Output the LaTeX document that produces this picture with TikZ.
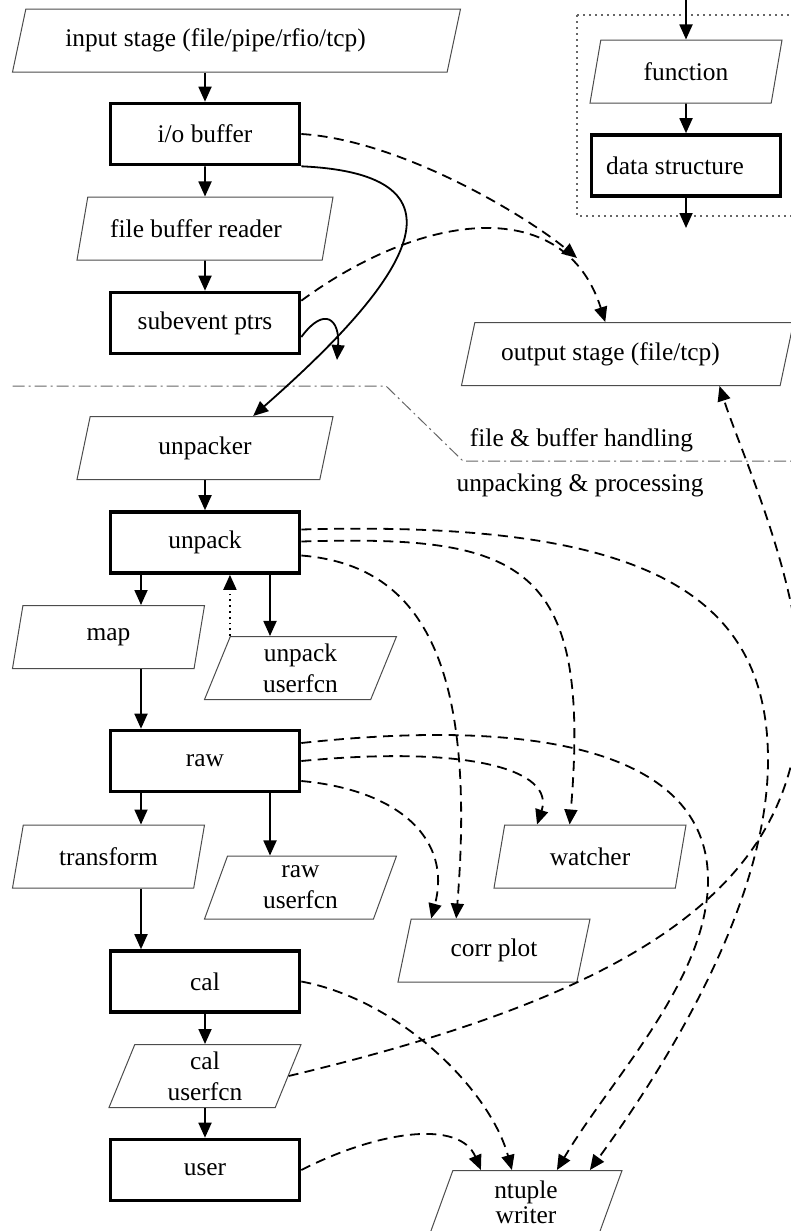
\documentclass[tikz,border=0pt]{standalone}
\usepackage{fontspec}
\setmainfont{Liberation Serif}
\usetikzlibrary{shapes.geometric, arrows.meta, calc}

\begin{document}
\begin{tikzpicture}[
x=0.5pt, y=-0.5pt,
>={Triangle[length=7.5pt,width=6.5pt]},
every node/.style={font=\fontsize{12.7}{15.5}\selectfont, align=center},
fn/.style={trapezium, trapezium left angle=64, trapezium right angle=116,
  trapezium stretches body, draw=black!70, line width=0.5pt,
  minimum width=96pt, minimum height=31.5pt, inner sep=1pt},
buf/.style={draw, line width=1.8pt, minimum width=94.5pt, minimum height=30.5pt},
flow/.style={->, line width=0.9pt},
feed/.style={->, line width=0.9pt, dash pattern=on 5pt off 3.2pt}
]
\useasboundingbox (0,0) rectangle (791,1231);

% Nodes
\node[fn, minimum width=224pt] (input) at (236.5,40.5) {input stage (file/pipe/rfio/tcp)\hspace*{21pt}};
\node[buf] (iobuf) at (205,134) {i/o buffer};
\node[fn, minimum width=128pt] (fbr) at (205,228.5) {file buffer reader\hspace*{9pt}};
\node[buf] (subevt) at (205,323) {subevent ptrs};
\node[fn, minimum width=128pt] (unpacker) at (205,448) {unpacker};
\node[buf] (unpack) at (205,542.5) {unpack};
\node[fn] (map) at (108.5,637) {map};
\node[fn] (unpackufcn) at (300.5,668) {unpack\\userfcn};
\node[buf] (raw) at (205,761) {raw};
\node[fn] (transform) at (108.5,856.5) {transform};
\node[fn] (rawufcn) at (300.5,887.5) {raw\\userfcn};
\node[buf] (cal) at (205,981.5) {cal};
\node[fn] (calufcn) at (205,1076) {cal\\userfcn};
\node[buf] (user) at (205,1170) {user};
\node[fn] (corrplot) at (494,950.5) {corr plot};
\node[fn] (watcher) at (590,856.5) {watcher};
\node[fn] (ntuple) at (526,1202) {ntuple\\[-3pt]writer};
\node[fn, minimum width=166pt] (outstage) at (627.5,354) {output stage (file/tcp)\hspace*{17pt}};

% Legend
\draw[black!60, line width=0.6pt, dash pattern=on 0.8pt off 2.2pt] (577,15) rectangle (800,216);
\node[fn] (legfn) at (686,71.5) {function};
\node[buf] (legbuf) at (686,165.5) {data structure\hspace*{11pt}};
\coordinate (legin) at (686,0);
\coordinate (legout) at (686,228);
\draw[flow] (legin) -- (legfn);
\draw[flow] (legfn) -- (legbuf);
\draw[flow] (legbuf) -- (legout);

% Divider
\draw[black!60, line width=0.5pt, dash pattern=on 6pt off 2pt on 1pt off 2pt]
  (12.6,386) -- (386,386) -- (463,461) -- (791,461);
\node (lblfile) at (581.5,440) {file \& buffer handling};
\node (lblunpack) at (580,485) {unpacking \& processing};

% Arrows
\coordinate (merge) at (337,360);
\coordinate (outmerge) at (577,258);
\coordinate (tomap) at ([xshift=-32pt]unpack.south);
\coordinate (toufcn) at ([xshift=32.5pt]unpack.south);
\coordinate (frommap) at ([xshift=-32pt]raw.north);
\coordinate (totrans) at ([xshift=-32pt]raw.south);
\coordinate (torawufcn) at ([xshift=32.5pt]raw.south);
\coordinate (fromtrans) at ([xshift=-32pt]cal.north);

\draw[flow] (iobuf.north |- input.south) -- (iobuf);
\draw[flow] (iobuf) -- (fbr);
\draw[flow] (fbr) -- (subevt);
\draw[flow] (unpacker) -- (unpack);
\draw[flow] (tomap) -- (tomap |- map.north);
\draw[flow] (toufcn) -- (toufcn |- unpackufcn.north);
\draw[->, dotted, line width=0.9pt] (unpackufcn.top left corner) -- (unpackufcn.top left corner |- unpack.south);
\draw[flow] (frommap |- map.south) -- (frommap);
\draw[flow] (totrans) -- (totrans |- transform.north);
\draw[flow] (torawufcn) -- (torawufcn |- rawufcn.north);
\draw[flow] (fromtrans |- transform.south) -- (fromtrans);
\draw[flow] (cal) -- (calufcn);
\draw[flow] (calufcn) -- (user);

\draw[flow] (iobuf.south east) .. controls (495,175) and (385,300) .. ([xshift=81.7pt]unpacker.top left corner);
\draw[flow] ($(subevt.east)+(0,14)$) .. controls (325,305) and (340,320) .. (merge);

\draw[feed] (iobuf.east) .. controls (400,140) and (525,215) .. (outmerge);
\draw[feed] ($(subevt.north east)+(0,10)$) .. controls (425,210) and (565,195) .. ([xshift=65.4pt]outstage.top left corner);
\draw[feed] (calufcn.right side) .. controls (650,990) and (805,880) .. (800,680)
  .. controls (800,580) and (740,450) .. ([xshift=129.3pt]outstage.bottom left corner);

\draw[feed] ($(unpack.east)+(0,-13)$) .. controls (640,520) and (768,590) .. (768,760)
  .. controls (768,900) and (670,1060) .. ([xshift=68.7pt]ntuple.top left corner);
\draw[feed] ($(unpack.east)+(0,-1)$) .. controls (520,535) and (592,560) .. ([xshift=32.7pt]watcher.top left corner);
\draw[feed] ($(unpack.east)+(0,13)$) .. controls (420,565) and (477,660) .. ([xshift=22.7pt]corrplot.top left corner);

\draw[feed] ($(raw.east)+(0,-18)$) .. controls (560,715) and (708,760) .. (708,880)
  .. controls (708,980) and (610,1080) .. ([xshift=52.2pt]ntuple.top left corner);
\draw[feed] (raw.east) .. controls (470,745) and (555,770) .. ([xshift=16.4pt]watcher.top left corner);
\draw[feed] ($(raw.east)+(0,20)$) .. controls (400,790) and (452,840) .. ([xshift=10.2pt]corrplot.top left corner);

\draw[feed] (cal.east) .. controls (400,1000) and (490,1090) .. ([xshift=29.7pt]ntuple.top left corner);
\draw[feed] (user.east) .. controls (380,1130) and (460,1120) .. ([xshift=14.2pt]ntuple.top left corner);
\end{tikzpicture}
\end{document}
